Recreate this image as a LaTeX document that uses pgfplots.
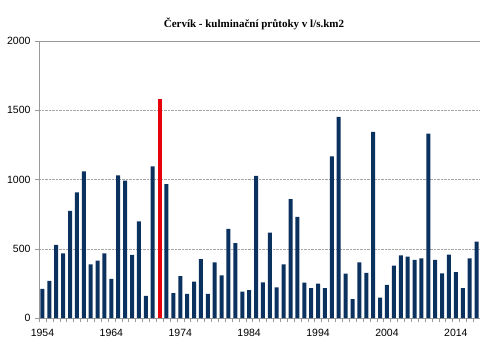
\documentclass[border=0pt]{standalone}
\usepackage{fontspec}
\setmainfont{Liberation Sans}
\newfontfamily\titlefont{Liberation Serif}
\usepackage{pgfplots}
\pgfplotsset{compat=1.18}
\definecolor{barblue}{HTML}{0B315E}
\definecolor{barred}{HTML}{E8000B}
\begin{document}
\begin{tikzpicture}
\begin{axis}[
  scale only axis,
  width=441pt, height=277pt,
  xmin=1953.5, xmax=2017.5,
  ymin=0, ymax=2000,
  axis lines=left,
  axis line style={draw=gray!80, -},
  ytick={0,500,1000,1500,2000},
  xtick={1953.5,1954.5,...,2017.5},
  xticklabels={},
  extra x ticks={1954,1964,1974,1984,1994,2004,2014},
  extra x tick labels={1954,1964,1974,1984,1994,2004,2014},
  extra x tick style={tick style={draw=none}, xticklabel style={yshift=-4pt}},
  major tick length=4pt,
  tick align=outside,
  tick style={gray!80},
  ymajorgrids,
  major grid style={densely dotted, gray!70},
  /pgf/number format/assume math mode=true,
  /pgf/number format/1000 sep={},
  ticklabel style={font=\fontsize{10.5}{12}\selectfont},
  yticklabel style={xshift=-1pt},
  ybar, bar width=4pt,
  title={\titlefont\bfseries\fontsize{11}{13}\selectfont Červík - kulminační průtoky v l/s.km2},
  title style={at={(0.4875,1)}, yshift=2pt},
  clip=false,
]
\addplot[fill=barblue, draw=none, bar shift=0pt] coordinates {
(1954,211) (1955,268) (1956,528) (1957,467) (1958,773) (1959,907) (1960,1059)
(1961,387) (1962,414) (1963,467) (1964,282) (1965,1030) (1966,991) (1967,455)
(1968,698) (1969,159) (1970,1095) (1972,967) (1973,180)
(1974,303) (1975,175) (1976,262) (1977,426) (1978,175) (1979,401) (1980,308)
(1981,643) (1982,541) (1983,190) (1984,202) (1985,1027) (1986,257) (1987,616)
(1988,221) (1989,387) (1990,859) (1991,731) (1992,255) (1993,216) (1994,248)
(1995,216) (1996,1167) (1997,1453) (1998,320) (1999,137) (2000,401) (2001,325)
(2002,1343) (2003,147) (2004,240) (2005,378) (2006,452) (2007,443) (2008,419)
(2009,430) (2010,1331) (2011,419) (2012,322) (2013,457) (2014,332) (2015,216)
(2016,430) (2017,551)
};
\addplot[fill=barred, draw=none, bar shift=0pt] coordinates {(1971,1582)};
\draw[gray!80] (axis cs:1953.5,2000) -- (axis cs:2017.5,2000);
\end{axis}
\pgfresetboundingbox
\path (-39pt,-42pt) rectangle (441pt,318pt);
\end{tikzpicture}
\end{document}
